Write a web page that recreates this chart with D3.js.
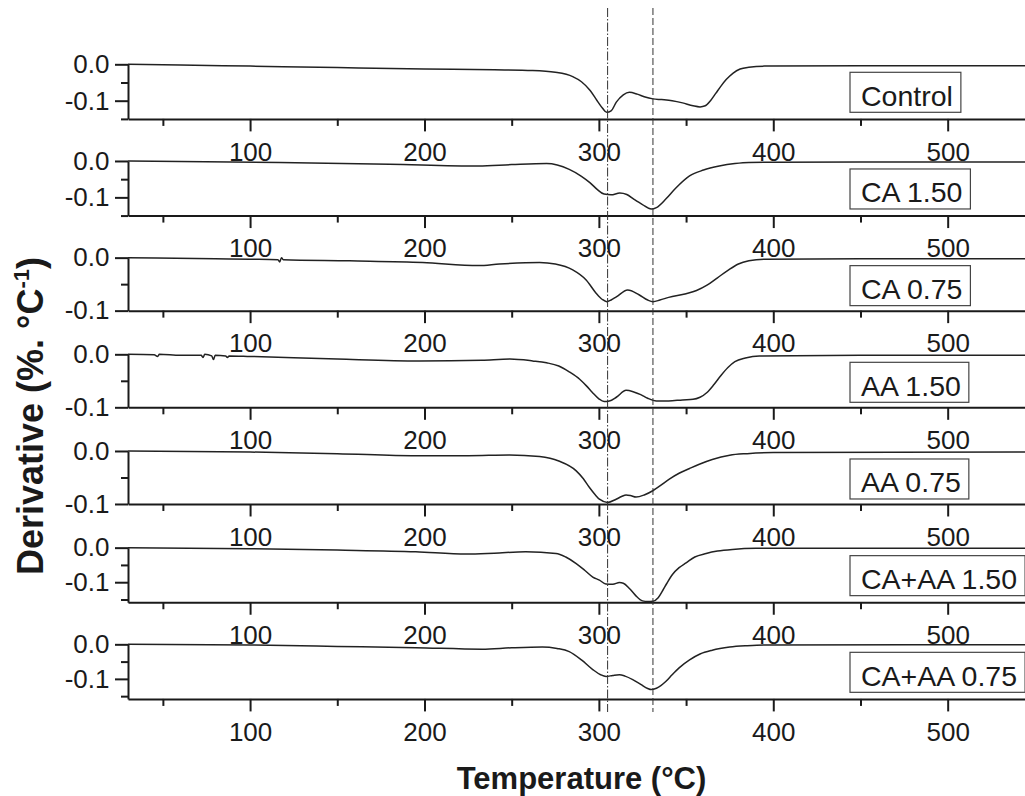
<!DOCTYPE html>
<html>
<head>
<meta charset="utf-8">
<script src="https://cdn.jsdelivr.net/npm/d3@7"></script>
<style>
  html, body { margin: 0; padding: 0; background: #fff; }
  svg { display: block; font-family: "Liberation Sans", Arial, Helvetica, sans-serif; }
</style>
</head>
<body>
<svg id="chart" width="1025" height="796"></svg>
<script>
// DTG curves: [temperature °C, derivative %·°C⁻¹]
const control = [
  [30, 0.000], [60, -0.002], [100, -0.005], [150, -0.009], [200, -0.013], [240, -0.015],
  [262, -0.017], [275, -0.022], [285, -0.034], [290, -0.048], [295, -0.072], [299, -0.100],
  [302, -0.120], [304.5, -0.132], [307, -0.128], [310, -0.104], [314, -0.084], [317.5, -0.077],
  [322, -0.082], [326, -0.089], [331, -0.095], [336, -0.097], [342, -0.100], [348, -0.106],
  [354, -0.114], [358, -0.117], [361, -0.114], [364, -0.100], [367, -0.080], [370, -0.060],
  [373, -0.042], [377, -0.024], [381, -0.013], [386, -0.008], [395, -0.005], [450, -0.004], [550, -0.004]
];
const ca150 = [
  [30, 0.000], [117, -0.004], [180, -0.009], [231, -0.014], [250, -0.010], [270, -0.007],
  [283, -0.023], [290, -0.042], [295, -0.060], [299, -0.078], [303, -0.091], [307, -0.093],
  [312, -0.088], [316, -0.092], [320, -0.105], [325, -0.120], [330, -0.132], [333, -0.128],
  [338.5, -0.104], [344, -0.075], [352, -0.041], [360, -0.025], [369, -0.014], [378, -0.007],
  [386, -0.004], [450, -0.003], [550, -0.003]
];
const ca075 = [
  [30, 0.000], [80, -0.002], [100, -0.003], [116, -0.004], [117, -0.008], [118, 0.000], [119, -0.004],
  [157, -0.006], [199, -0.009], [231, -0.015], [243, -0.012], [266, -0.009], [275, -0.012],
  [285, -0.023], [292.7, -0.042], [298.4, -0.067], [302, -0.079], [304.5, -0.083], [307, -0.080],
  [310, -0.074], [316.5, -0.061], [323, -0.070], [328, -0.080], [331, -0.083], [335, -0.080],
  [340, -0.075], [350, -0.068], [356, -0.062], [362, -0.052], [368, -0.038], [374, -0.024],
  [380, -0.012], [386, -0.006], [395, -0.003], [450, -0.002], [550, -0.002]
];
const aa150 = [
  [30, 0.000], [45, -0.001], [47, -0.004], [48, 0.000], [60, -0.002], [72, -0.002], [73, -0.006],
  [74, 0.000], [78, -0.003], [79, -0.010], [80, -0.002], [86, -0.003], [87, -0.006], [88, -0.003],
  [100, -0.004], [150, -0.009], [197, -0.0125], [233, -0.011], [249, -0.009], [262, -0.0125],
  [270, -0.016], [277, -0.022], [283, -0.033], [289, -0.047], [293, -0.060], [296.3, -0.072],
  [300, -0.084], [303, -0.089], [306, -0.088], [310, -0.081], [315.6, -0.068], [320, -0.071],
  [324, -0.076], [328, -0.083], [333, -0.088], [340, -0.088], [348, -0.086], [354, -0.085],
  [358, -0.081], [362, -0.072], [366, -0.057], [370, -0.040], [374, -0.025], [378, -0.014],
  [384, -0.007], [392, -0.003], [450, -0.002], [550, -0.002]
];
const aa075 = [
  [30, 0.000], [100, -0.002], [150, -0.005], [195, -0.009], [225, -0.009], [248.7, -0.0075],
  [266, -0.0106], [277, -0.019], [287, -0.0375], [291, -0.052], [294.6, -0.069], [298, -0.083],
  [300.3, -0.091], [305, -0.097], [309.9, -0.091], [313, -0.086], [315.6, -0.083], [318, -0.084],
  [321.3, -0.087], [326, -0.083], [330.9, -0.075], [335, -0.066], [340.4, -0.053], [346, -0.042],
  [352, -0.033], [357.6, -0.025], [365, -0.016], [375, -0.008], [385, -0.005], [400, -0.003], [550, -0.002]
];
const caaa150 = [
  [30, 0.000], [100, -0.003], [150, -0.007], [195, -0.012], [224, -0.0185], [240, -0.016],
  [258, -0.012], [275.4, -0.0166], [281, -0.027], [287, -0.046], [292, -0.066], [296.5, -0.085],
  [300.3, -0.094], [304, -0.105], [308, -0.106], [311.8, -0.101], [314, -0.103], [317.5, -0.118],
  [321, -0.138], [325, -0.154], [328, -0.156], [331, -0.155], [334, -0.145], [336.6, -0.124],
  [339, -0.103], [342.3, -0.077], [346, -0.058], [350, -0.044], [355, -0.027], [361.5, -0.017],
  [368, -0.010], [376.6, -0.005], [390, -0.002], [550, -0.002]
];
const caaa075 = [
  [30, 0.000], [100, -0.002], [150, -0.006], [195, -0.0097], [233, -0.014], [250, -0.010],
  [267.6, -0.0077], [276, -0.012], [283, -0.021], [290, -0.045], [296.5, -0.073], [301, -0.088],
  [304.1, -0.093], [308, -0.090], [311.8, -0.088], [315, -0.092], [319.4, -0.102], [324, -0.116],
  [328, -0.128], [330, -0.131], [333, -0.127], [338.5, -0.107], [342, -0.088], [346, -0.068],
  [352, -0.045], [358, -0.028], [365, -0.017], [375, -0.008], [385, -0.004], [395, -0.002], [550, -0.001]
];

const sampleNames = ["Control", "CA 1.50", "CA 0.75", "AA 1.50", "AA 0.75", "CA+AA 1.50", "CA+AA 0.75"];
const seriesList = [control, ca150, ca075, aa150, aa075, caaa150, caaa075];
const yLower = [-0.15, -0.15, -0.1, -0.1, -0.1, -0.158, -0.158];   // bottom of each panel's y range
const yMajorTicks = [0, -0.1];
const yMinorTicks = [-0.05, -0.15];
const xMajorTicks = [100, 200, 300, 400, 500];
const xMinorTicks = [50, 150, 250, 350, 450, 550];
const tempDomain = [30, 550];
const markerTemps = [305, 331];   // dash-dot and dashed guide lines

const svg = d3.select("#chart");
const INK = "#1a1a1a";
const TICK_FONT = 26;

const left = 128, pxPerDeg = 1.744;
const x = d3.scaleLinear().domain(tempDomain)
  .range([left, left + (tempDomain[1] - tempDomain[0]) * pxPerDeg]);

const firstTop = 64.3, step = 96.67;
const panelHeight = i => (yLower[i] === -0.1 ? 53 : 54.6);

const line = d3.line().curve(d3.curveMonotoneX);

seriesList.forEach((data, i) => {
  const top = firstTop + i * step;
  const bottom = top + panelHeight(i);
  const y = d3.scaleLinear().domain([yLower[i], 0]).range([bottom, top]);
  const g = svg.append("g");

  // x axis (major + minor)
  const gx = g.append("g").attr("transform", `translate(0,${bottom})`)
    .call(d3.axisBottom(x).tickValues(xMajorTicks).tickSize(12.5).tickSizeOuter(0)
      .tickFormat(d3.format("d")));
  gx.select(".domain").attr("stroke", INK).attr("stroke-width", 2);
  gx.selectAll(".tick line").attr("stroke", INK).attr("stroke-width", 2);
  gx.selectAll(".tick text").attr("y", 41.7).attr("dy", null)
    .attr("font-size", TICK_FONT).attr("fill", INK).attr("font-family", null);

  const gxm = g.append("g").attr("transform", `translate(0,${bottom})`)
    .call(d3.axisBottom(x).tickValues(xMinorTicks).tickSize(7).tickSizeOuter(0).tickFormat(""));
  gxm.select(".domain").remove();
  gxm.selectAll(".tick line").attr("stroke", INK).attr("stroke-width", 2);

  // y axis (major + minor)
  const gy = g.append("g").attr("transform", `translate(${left},0)`)
    .call(d3.axisLeft(y).tickValues(yMajorTicks).tickSize(13).tickSizeOuter(0)
      .tickFormat(d => d.toFixed(1)));
  gy.select(".domain").attr("stroke", INK).attr("stroke-width", 2);
  gy.selectAll(".tick line").attr("stroke", INK).attr("stroke-width", 2);
  gy.selectAll(".tick text").attr("x", -18.5).attr("font-size", TICK_FONT).attr("fill", INK)
    .attr("font-family", null);

  const minors = yMinorTicks.filter(v => v >= yLower[i] - 1e-9);
  const gym = g.append("g").attr("transform", `translate(${left},0)`)
    .call(d3.axisLeft(y).tickValues(minors).tickSize(7).tickSizeOuter(0).tickFormat(""));
  gym.select(".domain").remove();
  gym.selectAll(".tick line").attr("stroke", INK).attr("stroke-width", 2);

  // curve
  line.x(d => x(d[0])).y(d => y(d[1]));
  g.append("path").datum(data)
    .attr("d", line)
    .attr("fill", "none")
    .attr("stroke", "#222")
    .attr("stroke-width", 1.5)
    .attr("stroke-linejoin", "round");

  // sample label in a box
  const boxTop = top + 8, boxLeft = 850;
  const box = g.append("rect")
    .attr("x", boxLeft).attr("y", boxTop)
    .attr("height", 40)
    .attr("fill", "#fff").attr("stroke", "#444").attr("stroke-width", 1.2);
  const label = g.append("text")
    .attr("x", boxLeft + 11).attr("y", boxTop + 33.4)
    .attr("font-size", 28.5).attr("fill", INK)
    .text(sampleNames[i]);
  box.attr("width", label.node().getComputedTextLength() + 19);
});

// guide lines at the two DTG peaks
const guideDash = ["9,2,1.5,2", "7,3"];
markerTemps.forEach((t, k) => {
  svg.append("line")
    .attr("x1", x(t)).attr("x2", x(t))
    .attr("y1", 8).attr("y2", 712)
    .attr("stroke", "#333").attr("stroke-width", 1)
    .attr("stroke-dasharray", guideDash[k]);
});

// axis titles
svg.append("text")
  .attr("x", 581.5).attr("y", 789)
  .attr("text-anchor", "middle")
  .attr("font-size", 31).attr("font-weight", "bold").attr("fill", INK)
  .text("Temperature (°C)");

const yt = svg.append("text")
  .attr("transform", "translate(42.7,416) rotate(-90)")
  .attr("text-anchor", "middle")
  .attr("font-size", 36).attr("font-weight", "bold").attr("fill", INK);
yt.append("tspan").text("Derivative (%. °C");
yt.append("tspan").attr("font-size", 22).attr("dy", -14).text("-1");
yt.append("tspan").attr("dy", 14).text(")");
</script>
</body>
</html>
